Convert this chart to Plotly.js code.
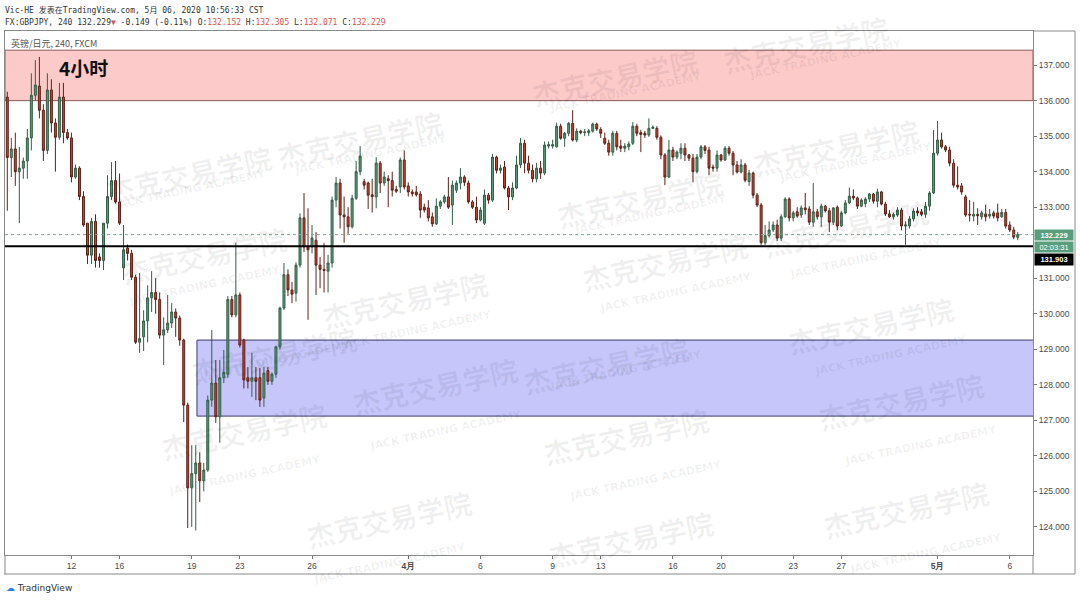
<!DOCTYPE html>
<html><head><meta charset="utf-8">
<script src="https://cdn.plot.ly/plotly-3.0.1.min.js"></script>
<style>html,body{margin:0;padding:0;background:#fff;}#chart{width:1080px;height:600px;}</style>
</head><body><div id="chart"></div>
<script>
// ---------------- DATA (GBPJPY 4h, FXCM) ----------------
const open = [136.10,134.40,134.64,134.00,134.10,134.30,134.95,136.15,136.41,135.73,
134.60,136.30,135.37,134.97,136.10,135.10,134.95,133.85,134.10,133.30,
132.55,131.65,132.60,131.60,131.50,132.55,133.30,133.75,133.15,131.29,
131.85,131.70,131.03,129.20,129.35,129.80,130.45,130.60,130.40,129.40,
129.55,129.74,130.05,129.88,129.26,127.43,125.10,125.50,125.80,125.30,
125.60,127.57,128.05,127.10,128.20,128.30,130.40,129.97,130.53,129.26,
128.20,128.10,128.20,128.20,127.63,128.40,128.10,128.30,129.07,130.16,
131.10,130.67,130.58,131.37,132.70,131.88,131.88,132.07,131.37,131.25,
131.20,131.43,133.20,133.68,132.78,132.73,132.45,133.25,134.00,133.72,
133.68,133.35,133.29,134.24,133.68,133.80,133.75,133.50,133.57,134.33,
133.60,133.43,133.43,133.37,133.00,132.98,132.73,132.53,133.03,133.15,
133.29,133.06,133.48,133.68,133.85,133.68,133.15,133.00,132.64,132.55,
133.34,133.20,134.41,134.04,134.13,133.54,133.29,133.54,134.19,134.80,
134.24,134.04,133.80,134.10,133.96,134.72,134.72,134.70,135.28,134.94,
135.08,135.36,134.89,135.14,135.10,135.10,135.14,135.34,135.19,134.94,
134.80,134.55,135.08,134.72,134.66,134.70,134.80,135.28,135.10,135.08,
135.03,135.22,135.22,134.97,134.47,133.85,134.61,134.41,134.52,134.66,
134.47,134.38,134.00,134.41,134.70,134.61,134.13,134.10,134.47,134.33,
134.66,134.52,134.19,133.99,134.19,133.72,133.96,133.34,133.06,132.00,
132.20,132.36,132.50,132.13,132.73,133.23,132.70,132.87,132.78,132.98,
132.95,132.58,132.87,132.73,133.03,132.90,132.58,133.00,132.47,132.84,
133.12,133.31,133.26,133.03,133.10,133.23,133.37,133.17,133.43,133.09,
132.81,132.73,132.78,132.92,132.47,132.47,132.67,132.89,132.87,132.80,
133.03,133.40,134.52,134.89,134.70,134.61,134.24,133.62,133.60,133.29,
132.80,132.75,132.80,132.73,132.81,132.75,132.84,132.84,132.73,132.85,
132.50,132.36,132.152];
const high = [136.25,134.95,135.10,134.70,134.40,135.20,136.77,137.14,137.23,135.90,
136.77,136.60,135.50,136.50,136.50,135.20,135.10,134.20,134.15,133.45,
132.55,132.70,132.80,131.70,132.55,133.90,134.27,134.30,133.95,132.50,
131.95,131.80,131.10,131.15,130.10,130.80,131.20,131.00,130.60,129.90,
130.53,130.30,130.15,129.95,129.30,127.50,126.30,126.30,126.10,125.80,
127.70,129.54,128.70,128.70,128.98,130.50,130.50,132.00,130.60,129.30,
128.50,128.90,128.50,128.47,128.50,128.50,128.35,129.10,130.20,131.43,
131.25,130.90,131.45,132.83,133.40,132.97,132.50,132.30,131.60,131.99,
131.66,133.30,133.85,133.80,133.30,133.00,133.35,134.30,134.72,133.80,
133.72,133.80,134.41,134.30,134.00,133.90,134.00,133.60,134.40,134.60,
133.70,133.50,133.60,133.45,133.10,133.20,132.85,133.25,133.20,133.35,
133.85,133.75,133.75,134.10,133.90,133.75,133.20,133.30,133.00,133.50,
133.40,134.50,134.45,134.20,134.30,133.60,133.70,134.45,134.95,134.90,
134.45,134.20,134.25,134.30,134.85,134.85,134.90,135.38,135.35,135.12,
135.40,135.73,135.22,135.18,135.20,135.20,135.38,135.38,135.25,135.10,
134.90,135.15,135.15,134.90,134.80,134.85,135.40,135.35,135.18,135.15,
135.50,135.30,135.28,135.02,134.52,134.89,134.70,134.60,134.80,134.80,
134.50,134.50,134.50,134.75,134.75,134.70,134.20,134.60,134.50,134.72,
134.72,134.58,134.30,134.35,134.25,134.05,134.00,133.40,133.12,132.50,
132.60,132.60,132.65,132.80,133.28,133.28,132.90,133.00,133.05,133.40,
133.03,133.68,132.95,133.10,133.06,132.98,133.00,133.05,132.90,133.20,
133.55,133.50,133.30,133.25,133.28,133.40,133.40,133.52,133.46,133.15,
132.92,132.85,133.00,132.98,132.60,132.75,132.97,133.00,132.95,133.15,
133.45,135.17,135.43,135.10,134.75,134.70,134.35,134.15,133.68,133.35,
133.20,133.15,132.97,132.90,133.07,132.95,132.90,133.10,132.95,132.95,
132.60,132.45,132.305];
const low = [132.90,133.85,133.60,132.55,133.80,133.80,134.60,136.00,135.50,134.30,
134.50,135.10,134.00,134.90,134.80,134.90,133.70,133.80,133.20,132.45,
131.40,131.40,131.30,131.30,131.23,132.40,133.20,133.10,132.50,130.95,
131.50,130.95,129.15,128.90,128.95,129.20,130.05,130.00,129.30,128.56,
129.46,129.60,129.35,129.10,126.95,123.97,124.00,123.90,124.70,125.00,
125.55,127.38,126.93,126.37,128.05,128.20,129.90,129.90,129.05,127.90,
127.90,127.66,127.57,127.38,127.38,128.00,128.00,128.20,129.00,130.10,
130.50,130.30,130.34,131.30,131.74,129.83,131.70,130.53,130.72,130.60,
130.60,131.30,133.00,132.40,132.00,132.25,132.40,133.20,133.90,133.50,
132.95,132.85,132.97,133.40,133.60,133.00,133.30,133.40,133.40,133.50,
133.30,133.30,133.30,132.70,132.85,132.60,132.45,132.50,132.95,133.10,
132.95,132.50,133.40,133.50,133.60,133.10,132.95,132.55,132.60,132.50,
133.10,133.15,133.95,133.95,133.50,132.92,133.20,133.50,134.10,133.96,
133.95,133.70,133.70,133.80,133.90,134.65,134.65,134.68,134.90,134.70,
135.00,134.85,134.83,135.05,135.00,135.00,135.10,135.15,134.95,134.75,
134.45,134.45,134.60,134.55,134.55,134.60,134.75,135.00,134.55,134.95,
134.98,135.20,134.90,134.35,133.62,133.82,134.30,134.35,134.35,134.30,
134.30,133.70,133.95,134.35,134.50,133.90,134.00,134.00,134.28,134.30,
134.45,133.90,133.95,133.95,133.70,133.60,133.25,133.00,131.94,131.94,
132.15,132.30,132.05,132.05,132.70,132.60,132.60,132.70,132.70,132.80,
132.50,132.45,132.65,132.45,132.85,132.30,132.50,132.35,132.45,132.80,
133.10,133.20,132.95,133.00,133.00,133.15,133.10,133.00,133.05,132.75,
132.70,132.65,132.73,132.35,131.94,132.40,132.60,132.75,132.75,132.70,
132.90,133.37,134.45,134.65,134.55,134.15,133.55,133.50,133.35,132.73,
132.60,132.60,132.50,132.65,132.60,132.68,132.68,132.60,132.70,132.40,
132.30,132.10,132.071];
const close = [134.40,134.64,134.00,134.10,134.30,134.95,136.15,136.44,135.73,134.60,
136.30,135.37,134.97,136.10,135.10,134.95,133.85,134.10,133.30,132.50,
131.65,132.60,131.50,131.50,132.55,133.30,133.75,133.15,132.55,131.80,
131.70,131.03,129.20,129.30,129.80,130.45,130.60,130.40,129.40,129.55,
129.74,130.05,129.88,129.26,127.43,125.10,125.50,125.80,125.30,125.60,
127.57,128.05,127.10,128.20,128.35,130.40,129.97,130.53,129.12,128.14,
128.10,128.20,128.10,127.57,128.33,128.10,128.30,129.07,130.16,131.10,
130.67,130.55,131.37,132.70,131.88,131.80,132.13,131.37,131.25,131.22,
131.43,133.20,133.68,132.78,132.73,132.45,133.25,134.00,134.44,133.62,
133.34,133.30,134.24,133.68,133.85,133.75,133.48,133.45,134.33,133.57,
133.43,133.38,133.35,132.92,132.92,132.70,132.53,133.03,133.15,133.29,
133.00,133.62,133.68,133.85,133.70,133.15,133.00,132.64,132.92,133.34,
133.20,134.41,134.04,134.10,133.54,133.29,133.54,134.19,134.80,134.24,
134.04,133.80,134.10,133.96,134.75,134.76,134.76,135.28,134.94,135.08,
135.36,134.89,135.14,135.10,135.12,135.15,135.34,135.20,135.08,134.80,
134.55,135.08,134.70,134.66,134.72,134.78,135.28,135.08,135.05,135.03,
135.22,135.25,134.97,134.47,133.85,134.61,134.41,134.55,134.66,134.47,
134.38,134.00,134.41,134.70,134.60,134.10,134.10,134.47,134.33,134.66,
134.52,134.19,133.99,134.19,133.76,133.96,133.34,133.06,132.00,132.20,
132.36,132.50,132.13,132.73,133.23,132.70,132.84,132.75,132.98,132.93,
132.58,132.87,132.73,133.03,132.90,132.58,132.98,132.47,132.84,133.12,
133.31,133.26,133.03,133.20,133.23,133.37,133.17,133.43,133.09,132.81,
132.73,132.80,132.92,132.47,132.50,132.67,132.89,132.84,132.80,133.03,
133.40,134.52,134.89,134.70,134.61,134.24,133.62,133.57,133.43,132.78,
132.78,132.80,132.76,132.84,132.73,132.80,132.75,132.70,132.85,132.47,
132.36,132.16,132.229];
// day-start candle index and labels of the time axis
const dayTickIndex = [16, 28, 46, 58, 76, 100, 118, 136, 148, 166, 178, 196, 208, 232, 250];
const dayTickText  = ['12','16','19','23','26','<b>4月</b>','6','9','13','16','20','23','27','<b>5月</b>','6'];
// 132.000 is hidden behind the price labels on the reference axis
const priceTicks = [124,125,126,127,128,129,130,131,133,134,135,136,137];
const supplyZone = [136.00, 137.42];
const demandZone = [127.12, 129.26];
const demandZoneStart = 47.3;
const keyLevel = 131.903;
const lastPrice = 132.229;
const barCountdown = '02:03:31';

// ---------------- LAYOUT HELPERS ----------------
const PL = 5, PR = 1033, PT = 31, PB = 555;
const px = x => (x - PL) / (PR - PL);
const py = y => (PB - y) / (PB - PT);
const idx = open.map((_, i) => i);

const trace = {
  type: 'candlestick', x: idx, open: open, high: high, low: low, close: close,
  increasing: {line: {color: '#335f49', width: 1}, fillcolor: '#559b77'},
  decreasing: {line: {color: '#5e2219', width: 1}, fillcolor: '#d43d2c'},
  whiskerwidth: 0, hoverinfo: 'skip'
};

const wmCN = [[895,5],[615,38],[360,100],[925,108],[100,135],[640,160],[115,255],[665,262],[935,228],
  [405,300],[960,325],[185,355],[695,365],[435,425],[990,440],[155,470],[715,475],[300,558],[995,548],[720,578]];
const annotations = [];
wmCN.forEach(p => {
  annotations.push({xref:'paper', yref:'paper', x:px(p[0]), y:py(p[1]), text:'杰克交易学院', showarrow:false,
    textangle:-12, font:{family:'Noto Sans CJK SC', size:28, color:'rgba(0,0,0,0.06)', weight:700}});
  if (p[1] < 560) {
    annotations.push({xref:'paper', yref:'paper', x:px(p[0]+10), y:py(p[1]+30), text:'JACK TRADING ACADEMY', showarrow:false,
      textangle:-12, font:{family:'DejaVu Sans', size:11, color:'rgba(0,0,0,0.06)', weight:700}});
  }
});
const red = '#e0534a';
annotations.push(
  {xref:'paper', yref:'paper', x:px(3), y:py(10), xanchor:'left', yanchor:'middle', showarrow:false,
   text:'Vic-HE 发表在TradingView.com, 5月 06, 2020 10:56:33 CST', font:{family:'DejaVu Sans Mono, Noto Sans CJK SC', size:8, color:'#333'}},
  {xref:'paper', yref:'paper', x:px(3), y:py(22), xanchor:'left', yanchor:'middle', showarrow:false,
   text:'FX:GBPJPY, 240 132.229<span style="color:'+red+'">▼</span> -0.149 (-0.11%) O:<span style="color:'+red+'">132.152</span> H:<span style="color:'+red+'">132.305</span> L:<span style="color:'+red+'">132.071</span> C:<span style="color:'+red+'">132.229</span>',
   font:{family:'DejaVu Sans Mono', size:8, color:'#333'}},
  {xref:'paper', yref:'paper', x:px(9), y:py(43), xanchor:'left', yanchor:'middle', showarrow:false,
   text:'英镑/日元, 240, FXCM', font:{family:'Noto Sans CJK SC, DejaVu Sans Mono', size:9, color:'#555'}},
  {xref:'paper', yref:'paper', x:px(57), y:py(68), xanchor:'left', yanchor:'middle', showarrow:false,
   text:'<b>4小时</b>', font:{family:'Noto Sans CJK SC', size:19, color:'#111'}},
  {xref:'paper', yref:'paper', x:px(4), y:py(588), xanchor:'left', yanchor:'middle', showarrow:false,
   text:'<span style="color:#2e86de">☁</span> TradingView', font:{family:'DejaVu Sans', size:9, color:'#333'}},
  {xref:'paper', yref:'y', x:1, y:lastPrice, xanchor:'left', yanchor:'middle', showarrow:false, xshift:1,
   text:'<b>'+lastPrice.toFixed(3)+'</b>', bgcolor:'#5b9e7d', borderpad:0, width:38, height:10,
   font:{family:'Liberation Sans', size:7.5, color:'#fff'}},
  {xref:'paper', yref:'y', x:1, y:lastPrice, xanchor:'left', yanchor:'middle', showarrow:false, xshift:1, yshift:-12,
   text:barCountdown, bgcolor:'#5b9e7d', borderpad:0, width:38, height:10,
   font:{family:'Liberation Sans', size:7.5, color:'#fff'}},
  {xref:'paper', yref:'y', x:1, y:lastPrice, xanchor:'left', yanchor:'middle', showarrow:false, xshift:1, yshift:-24.5,
   text:'<b>'+keyLevel.toFixed(3)+'</b>', bgcolor:'#000', borderpad:0, width:38, height:11,
   font:{family:'Liberation Sans', size:7.5, color:'#fff'}}
);

const shapes = [
  {type:'rect', xref:'paper', yref:'y', x0:0, x1:1, y0:supplyZone[0], y1:supplyZone[1],
   fillcolor:'#fdcaca', line:{color:'#8e5a5a', width:1}, layer:'below'},
  {type:'rect', xref:'x', yref:'y', x0:demandZoneStart, x1:400, y0:demandZone[0], y1:demandZone[1],
   fillcolor:'#c6c6fb', line:{color:'#3b3b6a', width:1}, layer:'below'},
  {type:'line', xref:'paper', yref:'y', x0:0, x1:1, y0:lastPrice, y1:lastPrice,
   line:{color:'#7fa893', width:1, dash:'dot'}},
  {type:'line', xref:'paper', yref:'y', x0:0, x1:1, y0:keyLevel, y1:keyLevel,
   line:{color:'#000', width:2}},
  {type:'line', xref:'paper', yref:'paper', x0:px(4), x1:px(1075), y0:py(574), y1:py(574), line:{color:'#8a8a8a', width:1}},
  {type:'line', xref:'paper', yref:'paper', x0:0, x1:0, y0:py(574), y1:0, line:{color:'#8a8a8a', width:1}},
  {type:'line', xref:'paper', yref:'paper', x0:1, x1:1, y0:py(574), y1:0, line:{color:'#8a8a8a', width:1}},
  {type:'line', xref:'paper', yref:'paper', x0:1, x1:px(1075), y0:1, y1:1, line:{color:'#8a8a8a', width:1}},
  {type:'line', xref:'paper', yref:'paper', x0:px(1075), x1:px(1075), y0:py(574), y1:1, line:{color:'#8a8a8a', width:1}}
];

const layout = {
  width:1080, height:600, margin:{l:PL, r:1080-PR, t:PT, b:600-PB},
  paper_bgcolor:'#fff', plot_bgcolor:'rgba(0,0,0,0)', showlegend:false, dragmode:false,
  xaxis:{range:[-0.57, 255.8], tickmode:'array', tickvals:dayTickIndex, ticktext:dayTickText,
    ticks:'outside', ticklen:3, tickcolor:'#777', showgrid:false, zeroline:false,
    showline:true, mirror:true, linecolor:'#8a8a8a', linewidth:1,
    tickfont:{family:'Liberation Sans', size:8.5, color:'#4a4a4a'}, rangeslider:{visible:false}, fixedrange:true},
  yaxis:{side:'right', range:[123.21, 137.96], tickmode:'array', tickvals:priceTicks,
    ticktext:priceTicks.map(v => v.toFixed(3)), ticks:'outside', ticklen:3, tickcolor:'#777',
    showgrid:false, zeroline:false, showline:true, mirror:true, linecolor:'#8a8a8a', linewidth:1,
    tickfont:{family:'Liberation Sans', size:8.5, color:'#4a4a4a'}, fixedrange:true},
  shapes: shapes, annotations: annotations
};

Plotly.newPlot('chart', [trace], layout, {displayModeBar:false, staticPlot:true});
</script></body></html>
